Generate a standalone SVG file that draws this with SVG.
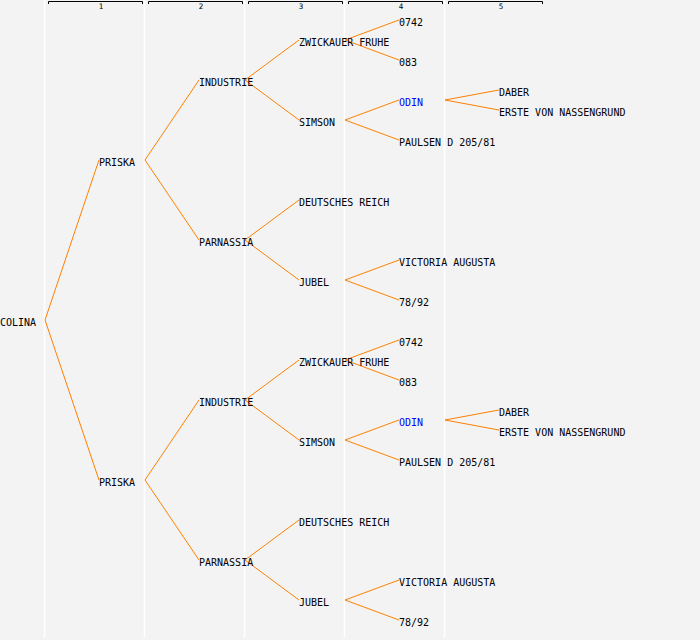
<svg xmlns="http://www.w3.org/2000/svg" width="700" height="640" viewBox="0 0 700 640">
<style>
.bg{fill:#f3f3f3}
.sep{stroke:#ffffff;stroke-width:1.5}
.br{fill:none;stroke:#000;stroke-width:1}
.hn{font-family:"DejaVu Sans Mono","Liberation Mono",monospace;font-size:7.5px;fill:#000;text-anchor:middle}
.t{font-family:"DejaVu Sans Mono","Liberation Mono",monospace;font-size:10px;fill:#000}
.b{fill:#0000ff}
.c line{stroke:#ff8000;stroke-width:1}
</style>
<rect class="bg" x="0" y="0" width="700" height="640"/>
<g id="columns">
<line class="sep" x1="44.5" y1="0" x2="44.5" y2="637"/>
<line class="sep" x1="144.5" y1="0" x2="144.5" y2="637"/>
<line class="sep" x1="244.5" y1="0" x2="244.5" y2="637"/>
<line class="sep" x1="344.5" y1="0" x2="344.5" y2="637"/>
<line class="sep" x1="444.5" y1="0" x2="444.5" y2="637"/>
</g>
<g id="header">
<path class="br" d="M48.5,4 V1.5 H142.5 V4"/><text class="hn" x="101" y="9">1</text>
<path class="br" d="M148.5,4 V1.5 H242.5 V4"/><text class="hn" x="201" y="9">2</text>
<path class="br" d="M248.5,4 V1.5 H342.5 V4"/><text class="hn" x="301" y="9">3</text>
<path class="br" d="M348.5,4 V1.5 H442.5 V4"/><text class="hn" x="401" y="9">4</text>
<path class="br" d="M448.5,4 V1.5 H542.5 V4"/><text class="hn" x="501" y="9">5</text>
</g>
<g id="connectors" class="c">
<line x1="45" y1="320" x2="99" y2="160"/>
<line x1="45" y1="320" x2="99" y2="480"/>
<line x1="145" y1="160" x2="199" y2="80"/>
<line x1="145" y1="160" x2="199" y2="240"/>
<line x1="245" y1="80" x2="299" y2="40"/>
<line x1="245" y1="80" x2="299" y2="120"/>
<line x1="245" y1="240" x2="299" y2="200"/>
<line x1="245" y1="240" x2="299" y2="280"/>
<line x1="345" y1="40" x2="399" y2="20"/>
<line x1="345" y1="40" x2="399" y2="60"/>
<line x1="345" y1="120" x2="399" y2="100"/>
<line x1="345" y1="120" x2="399" y2="140"/>
<line x1="345" y1="280" x2="399" y2="260"/>
<line x1="345" y1="280" x2="399" y2="300"/>
<line x1="445" y1="100" x2="499" y2="90"/>
<line x1="445" y1="100" x2="499" y2="110"/>
<line x1="145" y1="480" x2="199" y2="400"/>
<line x1="145" y1="480" x2="199" y2="560"/>
<line x1="245" y1="400" x2="299" y2="360"/>
<line x1="245" y1="400" x2="299" y2="440"/>
<line x1="245" y1="560" x2="299" y2="520"/>
<line x1="245" y1="560" x2="299" y2="600"/>
<line x1="345" y1="360" x2="399" y2="340"/>
<line x1="345" y1="360" x2="399" y2="380"/>
<line x1="345" y1="440" x2="399" y2="420"/>
<line x1="345" y1="440" x2="399" y2="460"/>
<line x1="345" y1="600" x2="399" y2="580"/>
<line x1="345" y1="600" x2="399" y2="620"/>
<line x1="445" y1="420" x2="499" y2="410"/>
<line x1="445" y1="420" x2="499" y2="430"/>
</g>
<g id="n-colina"><text class="t" x="0" y="326">COLINA</text></g>
<g id="n-priska1"><text class="t" x="99" y="166">PRISKA</text></g>
<g id="n-industrie1"><text class="t" x="199" y="86">INDUSTRIE</text></g>
<g id="n-zwickauer1"><text class="t" x="299" y="46">ZWICKAUER FRUHE</text></g>
<g id="n-0742a"><text class="t" x="399" y="26">0742</text></g>
<g id="n-083a"><text class="t" x="399" y="66">083</text></g>
<g id="n-simson1"><text class="t" x="299" y="126">SIMSON</text></g>
<g id="n-odin1"><text class="t b" x="399" y="106">ODIN</text></g>
<g id="n-daber1"><text class="t" x="499" y="96">DABER</text></g>
<g id="n-erste1"><text class="t" x="499" y="116">ERSTE VON NASSENGRUND</text></g>
<g id="n-paulsen1"><text class="t" x="399" y="146">PAULSEN D 205/81</text></g>
<g id="n-parnassia1"><text class="t" x="199" y="246">PARNASSIA</text></g>
<g id="n-deutsches1"><text class="t" x="299" y="206">DEUTSCHES REICH</text></g>
<g id="n-jubel1"><text class="t" x="299" y="286">JUBEL</text></g>
<g id="n-victoria1"><text class="t" x="399" y="266">VICTORIA AUGUSTA</text></g>
<g id="n-7892a"><text class="t" x="399" y="306">78/92</text></g>
<g id="n-priska2"><text class="t" x="99" y="486">PRISKA</text></g>
<g id="n-industrie2"><text class="t" x="199" y="406">INDUSTRIE</text></g>
<g id="n-zwickauer2"><text class="t" x="299" y="366">ZWICKAUER FRUHE</text></g>
<g id="n-0742b"><text class="t" x="399" y="346">0742</text></g>
<g id="n-083b"><text class="t" x="399" y="386">083</text></g>
<g id="n-simson2"><text class="t" x="299" y="446">SIMSON</text></g>
<g id="n-odin2"><text class="t b" x="399" y="426">ODIN</text></g>
<g id="n-daber2"><text class="t" x="499" y="416">DABER</text></g>
<g id="n-erste2"><text class="t" x="499" y="436">ERSTE VON NASSENGRUND</text></g>
<g id="n-paulsen2"><text class="t" x="399" y="466">PAULSEN D 205/81</text></g>
<g id="n-parnassia2"><text class="t" x="199" y="566">PARNASSIA</text></g>
<g id="n-deutsches2"><text class="t" x="299" y="526">DEUTSCHES REICH</text></g>
<g id="n-jubel2"><text class="t" x="299" y="606">JUBEL</text></g>
<g id="n-victoria2"><text class="t" x="399" y="586">VICTORIA AUGUSTA</text></g>
<g id="n-7892b"><text class="t" x="399" y="626">78/92</text></g>
</svg>
